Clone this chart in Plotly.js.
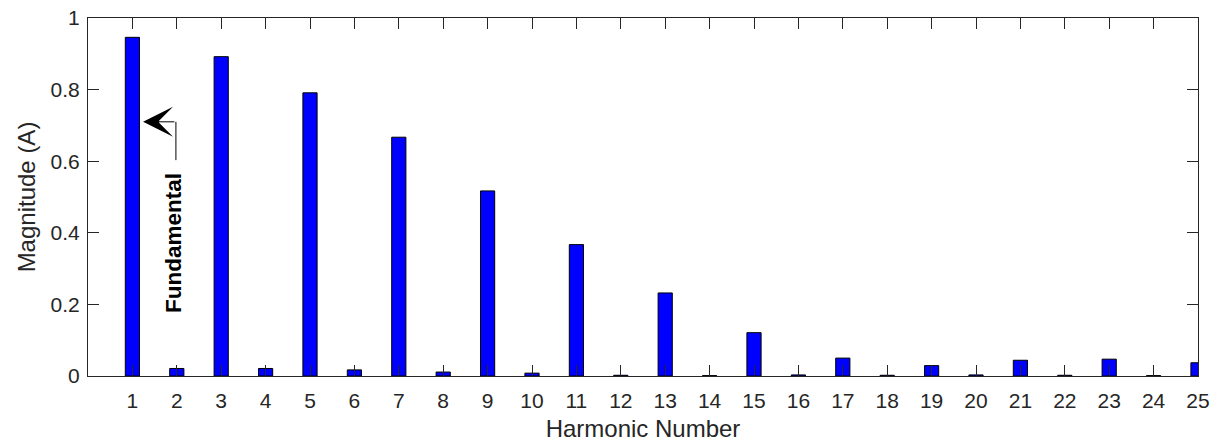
<!DOCTYPE html>
<html>
<head>
<meta charset="utf-8">
<script src="https://cdn.plot.ly/plotly-3.0.1.min.js"></script>
<style>html,body{margin:0;padding:0;background:#fff;}#chart{width:1212px;height:442px;}</style>
</head>
<body>
<div id="chart"></div>
<script>
// Harmonic orders
const harmonics = [1,2,3,4,5,6,7,8,9,10,11,12,13,14,15,16,17,18,19,20,21,22,23,24,25];
// Magnitudes (A)
const magnitudes = [0.946,0.021,0.892,0.021,0.791,0.017,0.667,0.011,0.517,0.008,0.367,0.002,0.232,0.001,0.121,0.003,0.050,0.002,0.029,0.003,0.044,0.002,0.047,0.001,0.037];
const xTickVals = harmonics;
const yTickVals = [0,0.2,0.4,0.6,0.8,1];
const yTickText = ['0','0.2','0.4','0.6','0.8','1'];
const annText = 'Fundamental';

const axisColor = '#262626';
const fontFam = '"Liberation Sans", Arial, Helvetica, sans-serif';

const trace = {
  type: 'bar',
  x: harmonics,
  y: magnitudes,
  width: 0.32,
  marker: {color: '#0000ff', line: {color: '#000000', width: 1}},
  hoverinfo: 'x+y'
};

const layout = {
  width: 1212, height: 442,
  margin: {l: 88, r: 14, t: 18, b: 66},
  paper_bgcolor: '#ffffff', plot_bgcolor: '#ffffff',
  showlegend: false,
  font: {family: fontFam, color: axisColor},
  xaxis: {
    range: [0, 25],
    tickmode: 'array', tickvals: xTickVals,
    ticks: 'inside', ticklen: 11, tickwidth: 1, tickcolor: axisColor,
    showline: true, linecolor: axisColor, linewidth: 1, mirror: 'ticks',
    showgrid: false, zeroline: false,
    ticklabelstandoff: 6,
    tickfont: {size: 21, color: axisColor, family: fontFam},
    title: {text: 'Harmonic Number', font: {size: 24, color: axisColor, family: fontFam}, standoff: 9}
  },
  yaxis: {
    range: [0, 1],
    tickmode: 'array', tickvals: yTickVals, ticktext: yTickText,
    ticks: 'inside', ticklen: 11, tickwidth: 1, tickcolor: axisColor,
    showline: true, linecolor: axisColor, linewidth: 1, mirror: 'ticks',
    showgrid: false, zeroline: false,
    ticklabelstandoff: 3,
    tickfont: {size: 21, color: axisColor, family: fontFam},
    title: {text: 'Magnitude (A)', font: {size: 24, color: axisColor, family: fontFam}, standoff: 8}
  },
  shapes: [
    {type: 'line', xref: 'x', yref: 'y', x0: 1.98, x1: 1.98, y0: 0.71, y1: 0.603,
     line: {color: '#000000', width: 1}}
  ],
  annotations: [
    {xref: 'x', yref: 'y', axref: 'x', ayref: 'y',
     x: 1.24, y: 0.71, ax: 1.98, ay: 0.71,
     text: '', showarrow: true, arrowhead: 3, arrowsize: 5, arrowwidth: 1, arrowcolor: '#000000'},
    {xref: 'x', yref: 'y', x: 1.91, y: 0.371, text: '<b>' + annText + '</b>',
     showarrow: false, textangle: -90,
     font: {size: 22.5, color: '#000000', family: fontFam}}
  ]
};

Plotly.newPlot('chart', [trace], layout, {displayModeBar: false, staticPlot: true});
</script>
</body>
</html>
